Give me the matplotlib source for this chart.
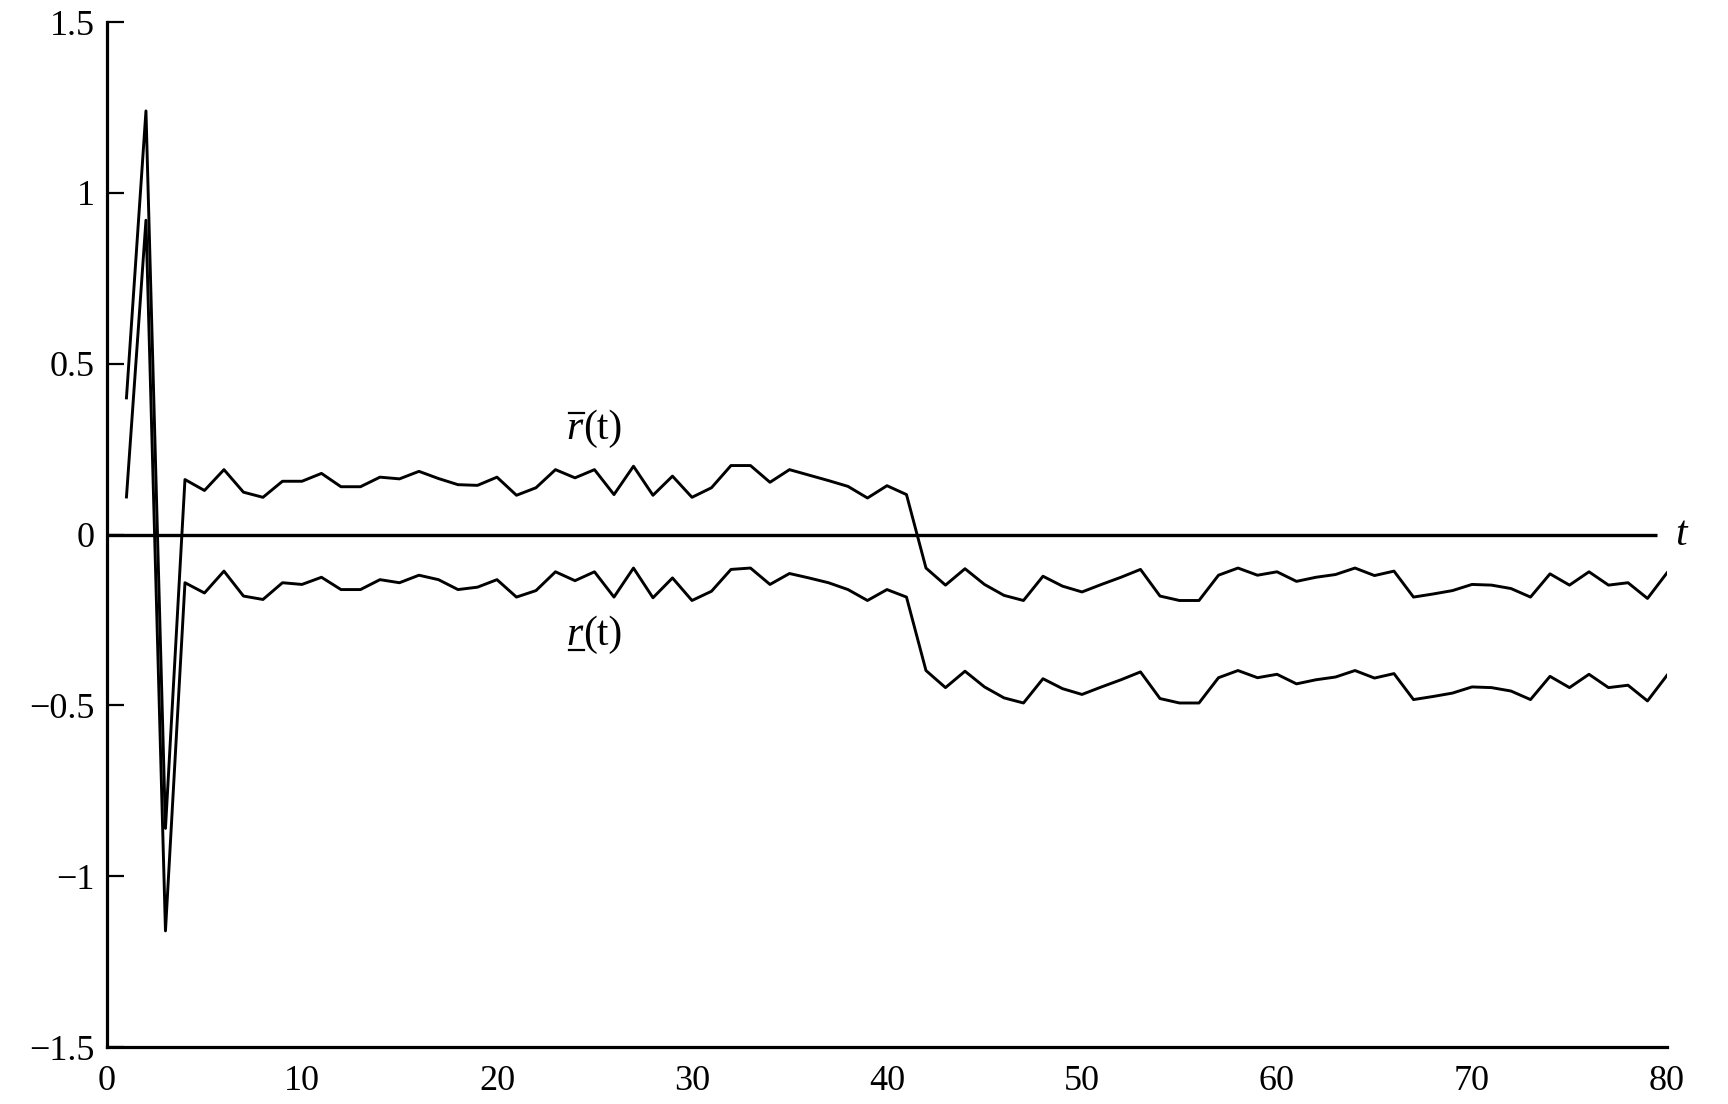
import numpy as np
import matplotlib
matplotlib.use("Agg")
import matplotlib.pyplot as plt
from matplotlib.lines import Line2D
from matplotlib.transforms import IdentityTransform

# time steps
t = np.arange(1, 81)

# upper bound r̄(t)
r_upper = [0.40, 1.24, -0.86, 0.161, 0.129, 0.190, 0.124, 0.109, 0.156, 0.156,
           0.179, 0.140, 0.140, 0.168, 0.163, 0.185, 0.164, 0.146, 0.144, 0.168,
           0.115, 0.137, 0.190, 0.166, 0.190, 0.117, 0.200, 0.115, 0.171, 0.109,
           0.137, 0.202, 0.202, 0.153, 0.190, 0.174, 0.158, 0.141, 0.107, 0.143,
           0.117, -0.098, -0.148, -0.100, -0.146, -0.178, -0.193, -0.122, -0.151, -0.168,
           -0.146, -0.125, -0.102, -0.180, -0.193, -0.193, -0.119, -0.098, -0.119, -0.109,
           -0.137, -0.125, -0.117, -0.098, -0.120, -0.107, -0.183, -0.174, -0.164, -0.146,
           -0.148, -0.158, -0.183, -0.115, -0.148, -0.109, -0.148, -0.141, -0.187, -0.112]

# lower bound r̲(t)
r_lower = [0.11, 0.92, -1.16, -0.141, -0.171, -0.107, -0.180, -0.190, -0.141, -0.146,
           -0.125, -0.161, -0.161, -0.132, -0.141, -0.119, -0.132, -0.161, -0.154, -0.132,
           -0.183, -0.164, -0.109, -0.135, -0.109, -0.183, -0.098, -0.185, -0.127, -0.193,
           -0.166, -0.102, -0.098, -0.146, -0.114, -0.127, -0.141, -0.161, -0.193, -0.161,
           -0.183, -0.398, -0.448, -0.400, -0.446, -0.478, -0.493, -0.422, -0.451, -0.468,
           -0.446, -0.425, -0.402, -0.480, -0.493, -0.493, -0.419, -0.398, -0.419, -0.409,
           -0.437, -0.425, -0.417, -0.398, -0.420, -0.407, -0.483, -0.474, -0.464, -0.446,
           -0.448, -0.458, -0.483, -0.415, -0.448, -0.409, -0.448, -0.441, -0.487, -0.412]

x_ticks = [0, 10, 20, 30, 40, 50, 60, 70, 80]
y_ticks = [-1.5, -1, -0.5, 0, 0.5, 1, 1.5]
y_tick_labels = ["\u22121.5", "\u22121", "\u22120.5", "0", "0.5", "1", "1.5"]

plt.rcParams['font.family'] = ['Liberation Serif', 'DejaVu Serif']

fig = plt.figure(figsize=(17.28, 11.04), dpi=100)
ax = fig.add_axes([0.0619, 0.0516, 0.9028, 0.9284])

ax.hlines(0, 0, 79.5, color='black', lw=2.4)
ax.plot(t, r_upper, color='black', lw=2.1)
ax.plot(t, r_lower, color='black', lw=2.1)

ax.set_xlim(0, 80)
ax.set_ylim(-1.5, 1.5)
ax.set_xticks(x_ticks)
ax.set_yticks(y_ticks)
ax.set_yticklabels(y_tick_labels)

for s in ['top', 'right']:
    ax.spines[s].set_visible(False)
for s in ['left', 'bottom']:
    ax.spines[s].set_linewidth(2.3)

ax.tick_params(axis='y', direction='in', length=12, width=1.6, pad=9, labelsize=26)
ax.tick_params(axis='x', length=0, pad=13, labelsize=26)

# curve labels: italic r + upright (t)
fs = 30
split_x = 24.4
r_up = ax.text(split_x, 0.28, "r", style='italic', ha='right', va='baseline', fontsize=fs)
ax.text(split_x, 0.28, "(t)", ha='left', va='baseline', fontsize=fs)
r_lo = ax.text(split_x, -0.323, "r", style='italic', ha='right', va='baseline', fontsize=fs)
ax.text(split_x, -0.323, "(t)", ha='left', va='baseline', fontsize=fs)

ax.text(80.7, 0.0, "t", style='italic', ha='center', va='center', fontsize=fs, clip_on=False)

# bar over / under the r
fig.canvas.draw()
renderer = fig.canvas.get_renderer()
em = fs * fig.dpi / 72.0
for txt, y0, off in [(r_up, 0.28, 0.62 * em), (r_lo, -0.323, -0.13 * em)]:
    bb = txt.get_window_extent(renderer)
    yb = ax.transData.transform((split_x, y0))[1] + off
    fig.add_artist(Line2D([bb.x0 + 2, bb.x1 + 1], [yb, yb], transform=IdentityTransform(),
                          color='black', lw=1.6))

fig.savefig("out.png", dpi=100)
